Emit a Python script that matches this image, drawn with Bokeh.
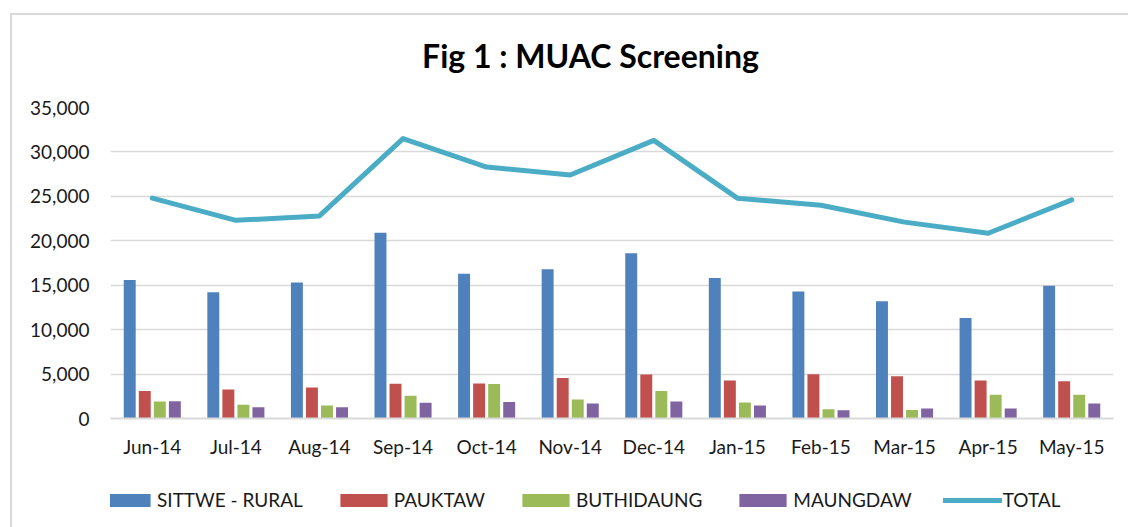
from bokeh.plotting import figure
from bokeh.models import (ColumnDataSource, FactorRange, Legend, LegendItem,
                          NumeralTickFormatter, Range1d, Label)
from bokeh.layouts import column
from bokeh.transform import dodge
from bokeh.embed import file_html
from bokeh.resources import INLINE

months = ["Jun-14", "Jul-14", "Aug-14", "Sep-14", "Oct-14", "Nov-14",
          "Dec-14", "Jan-15", "Feb-15", "Mar-15", "Apr-15", "May-15"]
sittwe = [15600, 14200, 15300, 20900, 16300, 16800, 18600, 15800, 14300, 13200, 11300, 14950]
pauktaw = [3100, 3250, 3500, 3900, 3950, 4570, 4950, 4270, 4980, 4750, 4270, 4190]
buthidaung = [1900, 1550, 1460, 2550, 3870, 2130, 3100, 1800, 1050, 950, 2660, 2660]
maungdaw = [1950, 1280, 1270, 1760, 1870, 1680, 1900, 1460, 940, 1120, 1120, 1680]
total = [24800, 22300, 22800, 31500, 28300, 27400, 31300, 24800, 24000, 22100, 20850, 24600]

series_names = ["SITTWE - RURAL", "PAUKTAW", "BUTHIDAUNG", "MAUNGDAW", "TOTAL"]
colors = ["#4f81bd", "#c0504d", "#9bbb59", "#8064a2"]
line_color = "#4bacc6"
title_text = "Fig 1 : MUAC Screening"

src = ColumnDataSource(dict(months=months, sittwe=sittwe, pauktaw=pauktaw,
                            buthidaung=buthidaung, maungdaw=maungdaw, total=total))

FONT = "Lato"
cols = ["sittwe", "pauktaw", "buthidaung", "maungdaw"]
offsets = [-0.27, -0.09, 0.09, 0.27]


def strip(height):
    f = figure(x_range=Range1d(0, 1003), y_range=Range1d(0, height), width=1116, height=height,
               output_backend="svg", toolbar_location=None,
               x_axis_location=None, y_axis_location=None,
               min_border_left=0, min_border_right=0, min_border_top=0, min_border_bottom=0)
    f.grid.visible = False
    f.outline_line_color = None
    f.title.visible = False
    return f


# title strip
pt = strip(77)
pt.add_layout(Label(x=480, y=37, text=title_text, text_align="center", text_baseline="middle",
                    text_font=FONT, text_font_size="32px", text_font_style="bold",
                    text_color="#000000"))

# main chart
p = figure(x_range=FactorRange(*months, range_padding=0), y_range=(0, 35000),
           frame_width=1003, frame_height=311, output_backend="svg", toolbar_location=None,
           min_border_left=98, min_border_right=15, min_border_top=15, min_border_bottom=40)
p.title.visible = False
for c, off, col in zip(cols, offsets, colors):
    p.vbar(x=dodge("months", off, range=p.x_range), top=c, width=0.143,
           source=src, fill_color=col, line_color=None)
p.line(x="months", y="total", source=src, line_color=line_color,
       line_width=5, line_join="round", line_cap="round")

p.yaxis.formatter = NumeralTickFormatter(format="0,0")
p.yaxis.ticker = [0, 5000, 10000, 15000, 20000, 25000, 30000, 35000]
for ax in (p.xaxis, p.yaxis):
    ax.major_label_text_font = FONT
    ax.major_label_text_font_size = "19px"
    ax.major_label_text_color = "#1a1a1a"
    ax.major_tick_line_color = None
    ax.minor_tick_line_color = None
p.yaxis.axis_line_color = None
p.yaxis.major_label_standoff = 15
p.xaxis.axis_line_color = "#d9d9d9"
p.xaxis.axis_line_width = 2
p.xaxis.major_label_standoff = 10
p.xgrid.grid_line_color = None
p.ygrid.grid_line_color = "#d9d9d9"
p.ygrid.grid_line_width = 1.5
p.outline_line_color = None

# legend strip: swatch renderers placed far outside the strip's visible range,
# carrying each series' style so that only the legend shows
pl = strip(69)
off_x = [-10000]
off_y = [-10000]
lrs = [pl.vbar(x=off_x, top=off_y, bottom=-20000, width=1, fill_color=col, line_color=None)
       for col in colors]
lrs.append(pl.line(x=[-10000, -9000], y=[-10000, -10000], line_color=line_color,
                   line_width=5, line_cap="round"))
items = [LegendItem(label=n, renderers=[r]) for n, r in zip(series_names, lrs)]
legend = Legend(items=items, orientation="horizontal", location=(-13, 18),
                glyph_width=59, glyph_height=16, label_text_font=FONT,
                label_text_font_size="19px", label_text_color="#1a1a1a",
                spacing=31, label_standoff=1, margin=0, padding=0,
                border_line_color=None, background_fill_alpha=0)
pl.add_layout(legend, "center")

layout = column(pt, p, pl, spacing=0,
                styles={"border-left": "2px solid #d9d9d9", "border-top": "2px solid #d9d9d9",
                        "margin-left": "10px", "margin-top": "13px"})

open("out.html", "w").write(file_html(layout, INLINE))
